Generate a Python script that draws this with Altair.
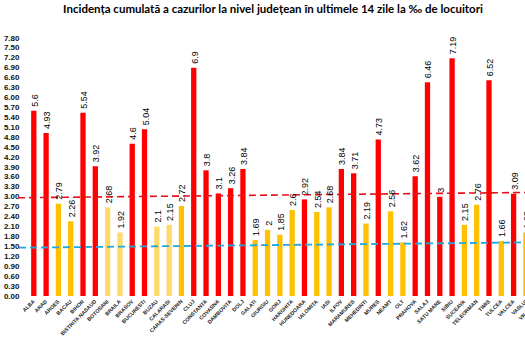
import altair as alt
import pandas as pd

counties = ["ALBA", "ARAD", "ARGES", "BACAU", "BIHOR", "BISTRITA NASAUD", "BOTOSANI",
            "BRAILA", "BRASOV", "BUCURESTI", "BUZAU", "CALARASI", "CARAS-SEVERIN", "CLUJ",
            "CONSTANTA", "COVASNA", "DAMBOVITA", "DOLJ", "GALATI", "GIURGIU", "GORJ",
            "HARGHITA", "HUNEDOARA", "IALOMITA", "IASI", "ILFOV", "MARAMURES", "MEHEDINTI",
            "MURES", "NEAMT", "OLT", "PRAHOVA", "SALAJ", "SATU MARE", "SIBIU", "SUCEAVA",
            "TELEORMAN", "TIMIS", "TULCEA", "VALCEA", "VASLUI", "VRANCEA"]

values = [5.6, 4.93, 2.79, 2.26, 5.54, 3.92, 2.68,
          1.92, 4.6, 5.04, 2.1, 2.15, 2.72, 6.9,
          3.8, 3.1, 3.26, 3.84, 1.69, 2, 1.85,
          2.6, 2.92, 2.54, 2.68, 3.84, 3.71, 2.19,
          4.73, 2.56, 1.62, 3.62, 6.46, 3, 7.19, 2.15,
          2.76, 6.52, 1.66, 3.09, 1.92]

groups = ["R", "R", "Y", "Y", "R", "R", "L",
          "L", "R", "R", "L", "L", "Y", "R",
          "R", "R", "R", "R", "Y", "Y", "Y",
          "Y", "R", "Y", "Y", "R", "R", "Y",
          "R", "Y", "Y", "R", "R", "R", "R", "Y",
          "Y", "R", "Y", "R", "Y"]

y_ticks = [0.0, 0.3, 0.6, 0.9, 1.2, 1.5, 1.8, 2.1, 2.4, 2.7, 3.0, 3.3, 3.6, 3.9,
           4.2, 4.5, 4.8, 5.1, 5.4, 5.7, 6.0, 6.3, 6.6, 6.9, 7.2, 7.5, 7.8]

# threshold lines (left end level, right end level)
red_line = [2.97, 3.13]
blue_line = [1.46, 1.62]

title_text = "Incidența cumulată a cazurilor la nivel județean în ultimele 14 zile la ‰ de locuitori"

n = len(values)
df = pd.DataFrame({
    "judet": counties[:n],
    "val": values,
    "grp": groups,
    "lbl": [f"{v:g}" for v in values],
})

FONT = "Liberation Sans"

x_scale = alt.Scale(domain=counties, range=[0, 522], paddingInner=0.57, paddingOuter=0.5)
x_axis = alt.Axis(title=None, labelAngle=315, labelAlign="right", labelBaseline="middle",
                  labelFontSize=5.3, labelFont=FONT, labelFontWeight="bold",
                  labelColor="#222222", labelPadding=4, ticks=False, domain=False,
                  labelOverlap=False, labelLimit=200)
y_scale = alt.Scale(domain=[0, 7.8], nice=False, zero=True)
y_axis = alt.Axis(values=y_ticks, format=".2f", grid=False, domain=False, ticks=False,
                  labelFontSize=8, labelFont=FONT, labelFontWeight="bold",
                  labelColor="#111111", labelPadding=6, title=None,
                  labelOverlap=False, labelBound=False, labelFlush=False)

x_enc = alt.X("judet:N", sort=counties, scale=x_scale, axis=x_axis)
y_enc = alt.Y("val:Q", scale=y_scale, axis=y_axis)

bars = alt.Chart(df).mark_bar().encode(
    x=x_enc,
    y=y_enc,
    color=alt.Color("grp:N", scale=alt.Scale(domain=["R", "Y", "L"],
                                             range=["#FF0000", "#FFC000", "#FFDA6A"]),
                    legend=None),
)

labels = alt.Chart(df).mark_text(angle=270, align="left", baseline="middle", dx=4, dy=1,
                                 fontSize=9, font=FONT, color="#000000").encode(
    x=x_enc,
    y=y_enc,
    text="lbl:N",
)

red_df = pd.DataFrame({"a": [red_line[0]], "b": [red_line[1]]})
blue_df = pd.DataFrame({"a": [blue_line[0]], "b": [blue_line[1]]})

red_rule = alt.Chart(red_df).mark_rule(color="#E8101A", strokeDash=[7, 4], strokeWidth=1.6).encode(
    x=alt.value(-7), x2=alt.value(500.5), y=alt.Y("a:Q", axis=y_axis, scale=y_scale), y2="b:Q")
blue_rule = alt.Chart(blue_df).mark_rule(color="#1FA8E0", strokeDash=[7, 4], strokeWidth=1.8).encode(
    x=alt.value(-6), x2=alt.value(500.5), y=alt.Y("a:Q", axis=y_axis, scale=y_scale), y2="b:Q")

chart = alt.layer(bars, red_rule, blue_rule, labels).properties(
    width=500,
    height=258,
    title=alt.Title(title_text, font="Lato", fontSize=11.5, fontWeight="bold",
                    color="#000000", anchor="middle", offset=19, dx=-2),
    padding={"left": 25, "top": 38, "right": 0, "bottom": 54},
    autosize=alt.AutoSizeParams(type="none"),
    background="white",
).configure_view(stroke=None).configure_axisY(labelOverlap=False).configure_axisX(labelOverlap=False)

chart.save("out.html", embed_options={"renderer": "svg", "actions": False})
